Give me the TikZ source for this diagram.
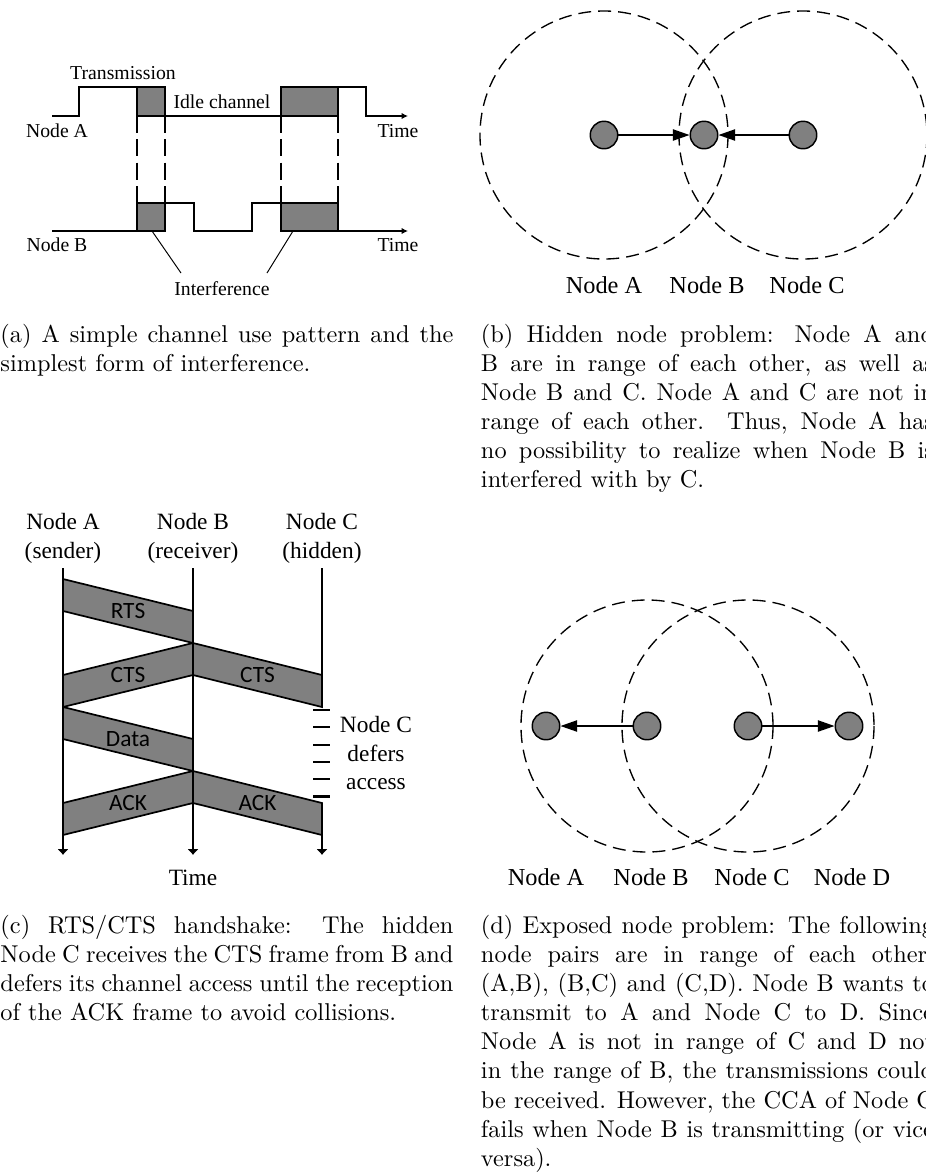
\documentclass[tikz,border=0pt]{standalone}
\usepackage{fontspec}
\newfontfamily\tnr{Liberation Serif}
\newfontfamily\pktfont{Carlito}
\usepackage{tikz}
\usetikzlibrary{arrows.meta}
\definecolor{pktgray}{RGB}{128,128,128}
\hyphenpenalty=10000
\exhyphenpenalty=10000

\begin{document}
\begin{tikzpicture}[x=0.411pt,y=-0.411pt,
    wave/.style={line width=0.6pt},
    pkt/.style={fill=pktgray,draw=black,line width=0.7pt},
    lbl/.style={font=\tnr\fontsize{8.1}{9.7}\selectfont,inner sep=0pt,anchor=base},
    nlbl/.style={font=\tnr\fontsize{10}{12}\selectfont,inner sep=0pt,anchor=base},
    hdr/.style={font=\tnr\fontsize{9.6}{11.7}\selectfont,inner sep=0pt,align=center},
    pktlbl/.style={font=\pktfont\fontsize{9.6}{11.5}\selectfont,inner sep=0pt},
    stn/.style={circle,draw,fill=pktgray,line width=0.6pt,minimum size=11.3pt,inner sep=0pt},
    radio/.style={line width=0.55pt,dash pattern=on 5.3pt off 2.9pt},
    link/.style={line width=0.6pt,-{Triangle[length=6.8pt,width=4.6pt]}},
    life/.style={line width=0.6pt},
    subcap/.style={anchor=base west,inner sep=0pt,text width=186.2pt,align=justify,font=\fontsize{10}{12}\selectfont}]
  \fill[white] (0,0) rectangle (926,1173);
  \useasboundingbox (0,0) rectangle (926,1173);

  % channel use pattern
  \draw[wave,-{Latex[length=2.6pt,width=2.6pt]}] (52,116) -- (79,116) -- (79,87) -- (137,87) -- (137,116)
    -- (338,116) -- (338,87) -- (366,87) -- (366,116) -- (408,116);
  \draw[wave,-{Latex[length=2.6pt,width=2.6pt]}] (52,231) -- (165,231) -- (165,203) -- (194,203) -- (194,231)
    -- (252,231) -- (252,203) -- (281,203) -- (281,231) -- (408,231);
  \foreach \x/\w in {137/165,281/338} {
    \filldraw[pkt,line width=0.6pt] (\x,87) rectangle (\w,116);
    \filldraw[pkt,line width=0.6pt] (\x,203) rectangle (\w,231);
  }
  \foreach \x in {137,165,281,338}
    \draw[line width=0.6pt,dash pattern=on 7pt off 2.6pt] (\x,116) -- (\x,203);
  \node[lbl] (tx) at (123,79) {Transmission};
  \node[lbl] (idle) at (222,108) {Idle channel};
  \node[lbl] (nodea) at (57,137) {Node A};
  \node[lbl] (timea) at (398,137) {Time};
  \node[lbl] (nodeb) at (57,251) {Node B};
  \node[lbl] (timeb) at (398,251) {Time};
  \node[lbl] (intf) at (222,295) {Interference};
  \coordinate (i1) at (152,231);
  \coordinate (j1) at (181,273);
  \coordinate (i2) at (293,231);
  \coordinate (j2) at (267,273);
  \draw[line width=0.4pt] (i1) -- (j1);
  \draw[line width=0.4pt] (i2) -- (j2);

  % hidden node
  \node[stn] (ha) at (604,135) {};
  \node[stn] (hb) at (704,135) {};
  \node[stn] (hc) at (803,135) {};
  \draw[radio] (ha) circle (124);
  \draw[radio] (hc) circle (124);
  \draw[link] (ha) -- (hb);
  \draw[link] (hc) -- (hb);
  \node[nlbl] (hla) at (604,293) {Node A};
  \node[nlbl] (hlb) at (707,293) {Node B};
  \node[nlbl] (hlc) at (807,293) {Node C};

  % RTS/CTS
  \node[hdr,anchor=north] (sa) at (63,513) {Node A\\(sender)};
  \node[hdr,anchor=north] (sb) at (193,513) {Node B\\(receiver)};
  \node[hdr,anchor=north] (sc) at (322,513) {Node C\\(hidden)};
  \foreach \n/\x in {a/63,b/193,c/322} {
    \coordinate (top\n) at (\x,568);
    \coordinate (bot\n) at (\x,855);
  }
  \coordinate (cstop) at (322,707);
  \coordinate (cgo) at (322,803);
  \draw[life,-{Latex[length=2.4pt,width=4.6pt]}] (topa) -- (bota);
  \draw[life,-{Latex[length=2.4pt,width=4.6pt]}] (topb) -- (botb);
  \draw[life] (topc) -- (cstop);
  \draw[life,-{Latex[length=2.4pt,width=4.6pt]}] (cgo) -- (botc);
  \foreach \xa/\xb/\y in {63/193/579,193/63/643,193/322/643,63/193/707,193/63/771,193/322/771}
    \filldraw[pkt] (\xa,\y) -- (\xb,\y+32) -- (\xb,\y+64) -- (\xa,\y+32) -- cycle;
  \node[pktlbl] (rts) at (128,611) {RTS};
  \node[pktlbl] (ctsa) at (128,675) {CTS};
  \node[pktlbl] (ctsc) at (257.5,675) {CTS};
  \node[pktlbl] (data) at (128,739) {Data};
  \node[pktlbl] (acka) at (128,803) {ACK};
  \node[pktlbl] (ackc) at (257.5,803) {ACK};
  \foreach \i in {0,...,5}
    \draw[line width=0.9pt] (313,710+17.3*\i) -- (330,710+17.3*\i);
  \node[hdr,anchor=north] (defer) at (376,716) {Node C\\defers\\access};
  \node[hdr,anchor=base] (timec) at (193,885) {Time};

  % exposed node
  \node[stn] (ea) at (546,726) {};
  \node[stn] (eb) at (647,726) {};
  \node[stn] (ec) at (748,726) {};
  \node[stn] (ed) at (849,726) {};
  \draw[radio] (eb) circle (126);
  \draw[radio] (ec) circle (126);
  \draw[link] (eb) -- (ea);
  \draw[link] (ec) -- (ed);
  \node[nlbl] (ela) at (546,885) {Node A};
  \node[nlbl] (elb) at (651,885) {Node B};
  \node[nlbl] (elc) at (752,885) {Node C};
  \node[nlbl] (eld) at (852,885) {Node D};

  \node[subcap] (capa) at (0,342) {(a) A simple channel use pattern and the simplest form of interference.};
  \node[subcap] (capb) at (480.5,342) {(b) Hidden node problem: Node A and\linebreak
    B are in range of each other, as well as\linebreak Node B and C. Node A and C are not in\linebreak
    range of each other. Thus, Node A has\linebreak no possibility to realize when Node B is\linebreak
    interfered with by C.};
  \node[subcap] (capc) at (0,933) {(c) RTS/CTS handshake: The hidden Node C receives the CTS frame from B and defers its channel access until the reception of the ACK frame to avoid collisions.};
  \node[subcap] (capd) at (480.5,933) {(d) Exposed node problem: The following\linebreak
    node pairs are in range of each other:\linebreak (A,B), (B,C) and (C,D). Node B wants to\linebreak
    transmit to A and Node C to D. Since\linebreak Node A is not in range of C and D not\linebreak
    in the range of B, the transmissions could\linebreak be received. However, the CCA of Node C\linebreak
    fails when Node B is transmitting (or vice\linebreak versa).};
\end{tikzpicture}
\end{document}
